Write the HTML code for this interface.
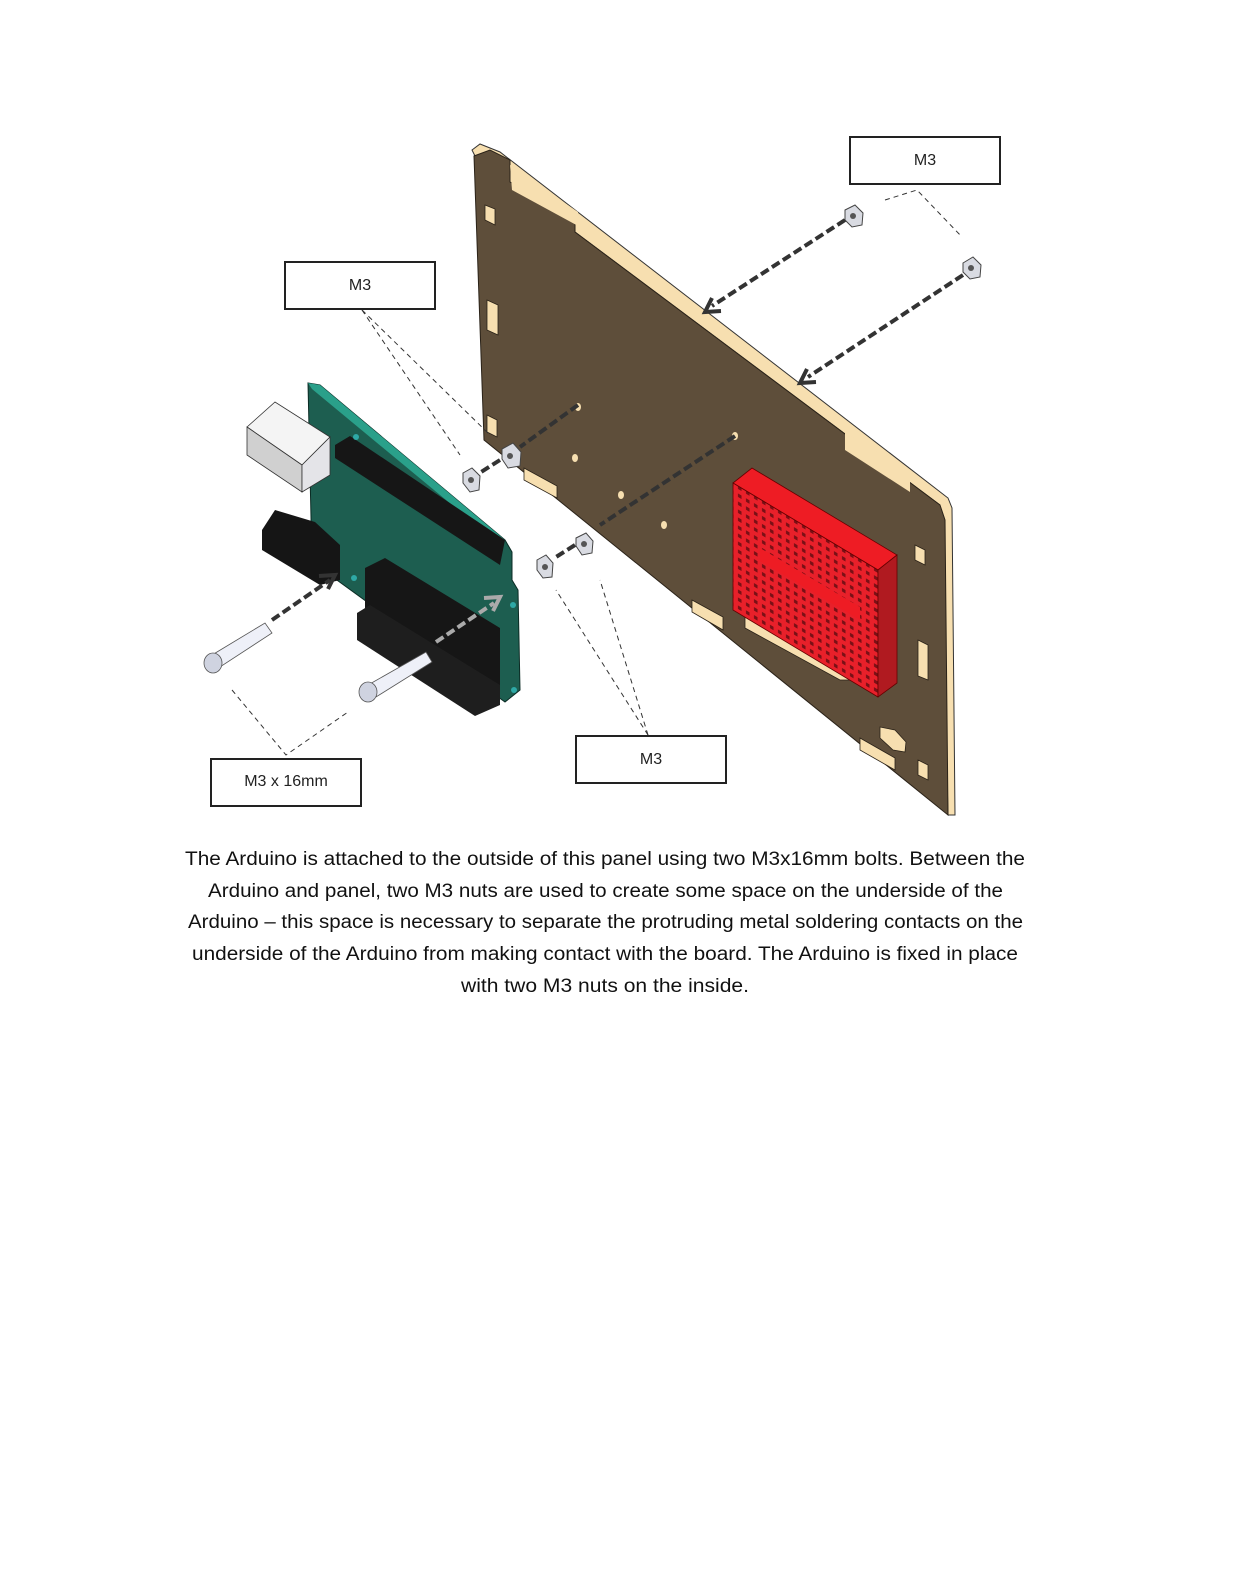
<!DOCTYPE html>
<html><head><meta charset="utf-8"><style>
html,body{margin:0;padding:0;background:#fff}
svg{display:block}
</style></head><body>
<svg width="1233" height="1595" viewBox="0 0 1233 1595" xmlns="http://www.w3.org/2000/svg">
<defs>
<pattern id="dots" width="8" height="8" patternUnits="userSpaceOnUse" patternTransform="skewY(31)">
<rect width="8" height="8" fill="#e8202a"/>
<rect x="2" y="2" width="3.5" height="3.5" fill="#7a1016"/>
</pattern>
</defs>
<polygon points="472,150 480,144 500,152 948,498 952,508 955,815 948,815 940,505 476,158" fill="#f7dfb0" stroke="#333" stroke-width="1"/>
<polygon points="474,156 490,150 510,160 510,182 575,215 575,232 940,505 945,520 948,815 484,440" fill="#5e4e3a" stroke="#2a2218" stroke-width="1"/>
<polygon points="510,165 512,190 580,227 578,212" fill="#f7dfb0"/>
<polygon points="845,432 910,473 910,492 845,450" fill="#f7dfb0"/>
<g fill="#f7dfb0" stroke="#2a2218" stroke-width="0.8">
<polygon points="485,205 495,209 495,225 485,220"/>
<polygon points="487,300 498,305 498,335 487,330"/>
<polygon points="487,415 497,420 497,437 487,432"/>
<polygon points="524,468 557,486 557,498 524,480"/>
<polygon points="692,600 723,617 723,630 692,612"/>
<polygon points="745,617 755,612 845,662 850,680 840,680 745,628"/>
<polygon points="860,738 895,758 895,770 860,750"/>
<polygon points="880,727 895,730 906,742 905,752 893,750 880,738"/>
<polygon points="915,545 925,550 925,565 915,560"/>
<polygon points="918,640 928,645 928,680 918,676"/>
<polygon points="918,760 928,765 928,780 918,775"/>
</g>
<g fill="#f7dfb0">
<ellipse cx="578" cy="407" rx="3" ry="4"/><ellipse cx="575" cy="458" rx="3" ry="4"/>
<ellipse cx="621" cy="495" rx="3" ry="4"/><ellipse cx="664" cy="525" rx="3" ry="4"/>
<ellipse cx="735" cy="436" rx="3" ry="4"/>
</g>
<polygon points="733,483 752,468 897,555 878,570" fill="#ee1c24" stroke="#600" stroke-width="0.8"/>
<polygon points="733,483 878,570 878,697 733,610" fill="url(#dots)" stroke="#600" stroke-width="0.8"/>
<polygon points="760,548 860,607 860,620 760,561" fill="#ee1c24"/>
<polygon points="878,570 897,555 897,683 878,697" fill="#b01a20" stroke="#600" stroke-width="0.8"/>
<polygon points="308,383 320,385 505,540 512,552 512,580 518,590 520,690 505,702 312,562" fill="#1d5e50" stroke="#0b2b24" stroke-width="1"/>
<polygon points="308,383 320,385 505,540 498,543 312,389" fill="#2aa08a"/>
<polygon points="335,445 350,436 505,540 500,565 335,458" fill="#161616"/>
<polygon points="365,568 385,558 500,628 500,690 475,700 365,630" fill="#161616"/>
<polygon points="357,613 370,605 500,685 500,705 475,716 357,640" fill="#1e1e1e"/>
<polygon points="262,530 275,510 315,522 340,545 340,580 320,585 262,550" fill="#151515"/>
<polygon points="247,427 275,402 330,437 302,465" fill="#f4f4f4" stroke="#333" stroke-width="0.8"/>
<polygon points="247,427 302,465 302,492 247,455" fill="#d0d0d0" stroke="#333" stroke-width="0.8"/>
<polygon points="302,465 330,437 330,475 302,492" fill="#e4e4e8" stroke="#333" stroke-width="0.8"/>
<g fill="#3bb" opacity="0.8"><circle cx="356" cy="437" r="3"/><circle cx="354" cy="578" r="3"/><circle cx="513" cy="605" r="3"/><circle cx="514" cy="690" r="3"/></g>
<g stroke="#555" stroke-width="0.8">
<polygon points="212,655 265,623 272,633 220,667" fill="#eef0f8"/>
<ellipse cx="213" cy="663" rx="9" ry="10" fill="#cfd3e0"/>
<polygon points="368,685 426,652 432,662 376,697" fill="#eef0f8"/>
<ellipse cx="368" cy="692" rx="9" ry="10" fill="#cfd3e0"/>
</g>
<g fill="#d9dbe2" stroke="#444" stroke-width="1">
<polygon points="845,210 855,205 863,213 862,225 852,227 845,220"/>
<polygon points="963,263 973,257 981,265 980,277 970,279 963,272"/>
<polygon points="502,449 513,443 521,452 520,466 508,468 502,459"/>
<polygon points="463,473 472,468 480,476 479,490 470,492 463,483"/>
<polygon points="576,538 586,533 593,541 592,553 582,555 576,546"/>
<polygon points="537,560 546,555 553,563 552,577 543,578 537,570"/>
</g>
<g fill="#555"><circle cx="853" cy="216" r="3"/><circle cx="971" cy="268" r="3"/><circle cx="510" cy="456" r="3"/><circle cx="471" cy="480" r="3"/><circle cx="584" cy="544" r="3"/><circle cx="545" cy="567" r="3"/></g>
<g stroke="#333" stroke-width="4" stroke-dasharray="9,4" fill="none">
<line x1="845" y1="220" x2="712" y2="306"/>
<line x1="963" y1="275" x2="808" y2="377"/>
<line x1="578" y1="405" x2="520" y2="447"/>
<line x1="500" y1="460" x2="478" y2="474"/>
<line x1="735" y1="436" x2="600" y2="525"/>
<line x1="575" y1="545" x2="556" y2="557"/>
<line x1="272" y1="620" x2="330" y2="580"/>
</g>
<g stroke="#333" stroke-width="4" fill="none" stroke-linejoin="miter"><polyline points="712,298 705,312 721,311"/><polyline points="807,369 800,383 816,382"/><polyline points="319,576 335,575 328,589"/></g>
<line x1="436" y1="642" x2="494" y2="603" stroke="#aaa" stroke-width="4" stroke-dasharray="9,4"/>
<polyline points="484,598 500,597 493,611" stroke="#aaa" stroke-width="4" fill="none"/>
<g stroke="#333" stroke-width="1" stroke-dasharray="5,4" fill="none">
<polyline points="885,200 917,190 962,237"/>
<line x1="362" y1="310" x2="460" y2="455"/>
<line x1="362" y1="310" x2="490" y2="435"/>
<line x1="648" y1="735" x2="556" y2="590"/>
<line x1="648" y1="735" x2="600" y2="580"/>
<polyline points="232,690 286,755 348,712"/>
</g>
<g fill="#fff" stroke="#222" stroke-width="2">
<rect x="850" y="137" width="150" height="47"/>
<rect x="285" y="262" width="150" height="47"/>
<rect x="576" y="736" width="150" height="47"/>
<rect x="211" y="759" width="150" height="47"/>
</g>
<g font-family="Liberation Sans, sans-serif" font-size="16" fill="#222" text-anchor="middle">
<text x="925" y="165">M3</text>
<text x="360" y="290">M3</text>
<text x="651" y="764">M3</text>
<text x="286" y="786">M3 x 16mm</text>
</g>
<g font-family="Liberation Sans, sans-serif" font-size="19" fill="#111">
<text x="185" y="865" textLength="840" lengthAdjust="spacingAndGlyphs">The Arduino is attached to the outside of this panel using two M3x16mm bolts. Between the</text>
<text x="208" y="897" textLength="795" lengthAdjust="spacingAndGlyphs">Arduino and panel, two M3 nuts are used to create some space on the underside of the</text>
<text x="188" y="928" textLength="835" lengthAdjust="spacingAndGlyphs">Arduino – this space is necessary to separate the protruding metal soldering contacts on the</text>
<text x="192" y="960" textLength="826" lengthAdjust="spacingAndGlyphs">underside of the Arduino from making contact with the board. The Arduino is fixed in place</text>
<text x="461" y="992" textLength="288" lengthAdjust="spacingAndGlyphs">with two M3 nuts on the inside.</text>
</g>
</svg>
</body></html>
